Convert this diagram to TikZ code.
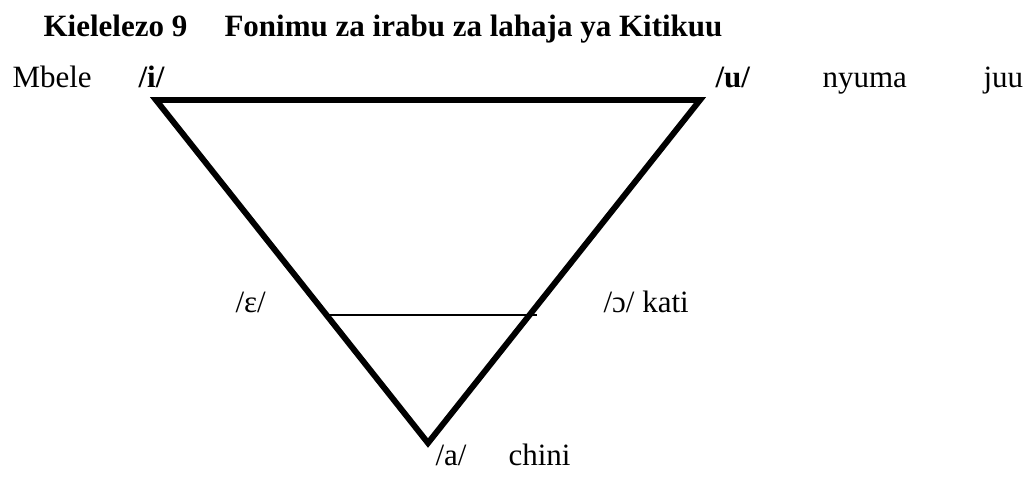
\documentclass[tikz,border=0pt]{standalone}
\usepackage{fontspec}
\setmainfont{Liberation Serif}
\usepackage{tikz}
\usetikzlibrary{positioning}

\begin{document}
\begin{tikzpicture}[x=0.387pt, y=-0.387pt,
            txt/.style={anchor=base west, inner sep=0pt, font=\rmfamily\fontsize{12}{14}\selectfont},
            boldtxt/.style={txt, font=\rmfamily\fontsize{12}{14}\selectfont\bfseries},
            vowelside/.style={draw, line width=2.3pt, line join=miter, black},
            midline/.style={draw, line width=0.8pt, black}
        ]
            \useasboundingbox (0,0) rectangle (1026,481);

            % Title
            \node (num) at (43,36) [boldtxt] {Kielelezo 9};
            \node (title) at (224,36) [boldtxt] {Fonimu za irabu za lahaja ya Kitikuu};

            % Vowel triangle
            \coordinate (fl) at (156,100);
            \coordinate (fr) at (700,100);
            \coordinate (bt) at (428,443);
            \draw [vowelside] (fl) -- (fr) -- (bt) -- cycle;

            % Mid vowels
            \coordinate (me) at (328,315);
            \coordinate (mo) at (537,315);
            \draw [midline] (me) -- (mo);

            % Labels
            \node (mbele) at (12,87) [txt] {Mbele};
            \node (i) at (138,87) [boldtxt] {/i/};
            \node (u) at (715,87) [boldtxt] {/u/};
            \node (nyuma) at (822,87) [txt] {nyuma};
            \node (juu) at (983,87) [txt] {juu};
            \node (e) at (235,312) [txt] {/ɛ/};
            \node (o) at (603,312) [txt] {/ɔ/ kati};
            \node (a) at (435,465) [txt] {/a/};
            \node (chini) at (508,465) [txt] {chini};
        \end{tikzpicture}
\end{document}
